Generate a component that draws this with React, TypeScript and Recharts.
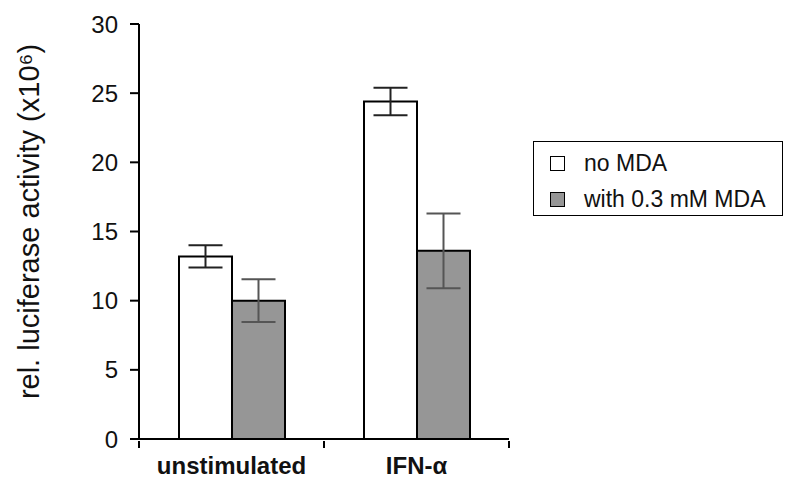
import * as React from "react";
import { Bar, BarChart, ErrorBar, XAxis, YAxis } from "recharts";

const categories = ["unstimulated", "IFN-\u03b1"];
const noMda = [13.2, 24.4];
const noMdaErr = [0.8, 1.0];
const withMda = [10.0, 13.6];
const withMdaErr = [1.55, 2.7];
const yTicks = [0, 5, 10, 15, 20, 25, 30];
const legendItems = ["no MDA", "with 0.3 mM MDA"];

const data = categories.map((name, i) => ({
  name,
  noMda: noMda[i],
  noMdaErr: noMdaErr[i],
  withMda: withMda[i],
  withMdaErr: withMdaErr[i],
}));

const FONT = "'Liberation Sans', Arial, sans-serif";
const GREY = "#969696";
const fills = ["#fff", GREY];

// category labels sit under the bars, tick marks sit on the band edges
function CategoryTick(props: any) {
  const { x, y, payload, index, visibleTicksCount } = props;
  const half = 92.5;
  const last = index === (visibleTicksCount ?? categories.length) - 1;
  return (
    <g>
      <line x1={x - half} x2={x - half} y1={y - 6} y2={y + 1} stroke="#000" strokeWidth={2} />
      {last && (
        <line x1={x + half} x2={x + half} y1={y - 6} y2={y + 1} stroke="#000" strokeWidth={2} />
      )}
      <text x={x} y={y} dy={27} textAnchor="middle" fontFamily={FONT} fontWeight="bold" fontSize={24} fill="#111">
        {payload.value}
      </text>
    </g>
  );
}

function LegendBox() {
  return (
    <div
      style={{
        position: "absolute",
        left: 533,
        top: 141,
        border: "1.5px solid #000",
        width: 250,
        height: 75,
        boxSizing: "border-box",
        padding: "6px 0 0 16px",
        fontFamily: FONT,
        fontSize: 23,
        color: "#111",
        background: "#fff",
      }}
    >
      {legendItems.map((label, i) => (
        <div key={label} style={{ display: "flex", alignItems: "center", height: 30, marginBottom: 6 }}>
          <span
            style={{
              display: "inline-block",
              width: 13,
              height: 13,
              border: "1.5px solid #000",
              background: fills[i],
              marginRight: 19,
            }}
          />
          {label}
        </div>
      ))}
    </div>
  );
}

export default function App() {
  return (
    <div style={{ position: "absolute", left: 0, top: 0, width: 785, height: 479, background: "#fff" }}>
      <BarChart
        width={785}
        height={479}
        data={data}
        margin={{ top: 24, right: 276, bottom: 0, left: 0 }}
        barCategoryGap={40}
        barGap={0}
      >
        <XAxis
          dataKey="name"
          axisLine={{ stroke: "#000", strokeWidth: 2 }}
          tickLine={false}
          tick={<CategoryTick />}
          height={40}
          interval={0}
        />
        <YAxis
          type="number"
          domain={[0, 30]}
          ticks={yTicks}
          width={139}
          axisLine={{ stroke: "#000", strokeWidth: 2 }}
          tickLine={{ stroke: "#000", strokeWidth: 2 }}
          tickSize={9}
          tickMargin={12}
          tick={{ fill: "#111", fontSize: 24, fontFamily: FONT }}
          label={{
            value: "rel. luciferase activity (x10\u2076)",
            angle: -90,
            position: "insideLeft",
            dx: 24,
            dy: -10,
            style: { textAnchor: "middle", fill: "#111", fontSize: 29, fontFamily: FONT },
          }}
        />
        <Bar dataKey="noMda" fill={fills[0]} stroke="#000" strokeWidth={2} isAnimationActive={false}>
          <ErrorBar dataKey="noMdaErr" width={17} stroke="#222" strokeWidth={2} />
        </Bar>
        <Bar dataKey="withMda" fill={fills[1]} stroke="#000" strokeWidth={2} isAnimationActive={false}>
          <ErrorBar dataKey="withMdaErr" width={17} stroke="#555" strokeWidth={2} />
        </Bar>
      </BarChart>
      <LegendBox />
    </div>
  );
}
